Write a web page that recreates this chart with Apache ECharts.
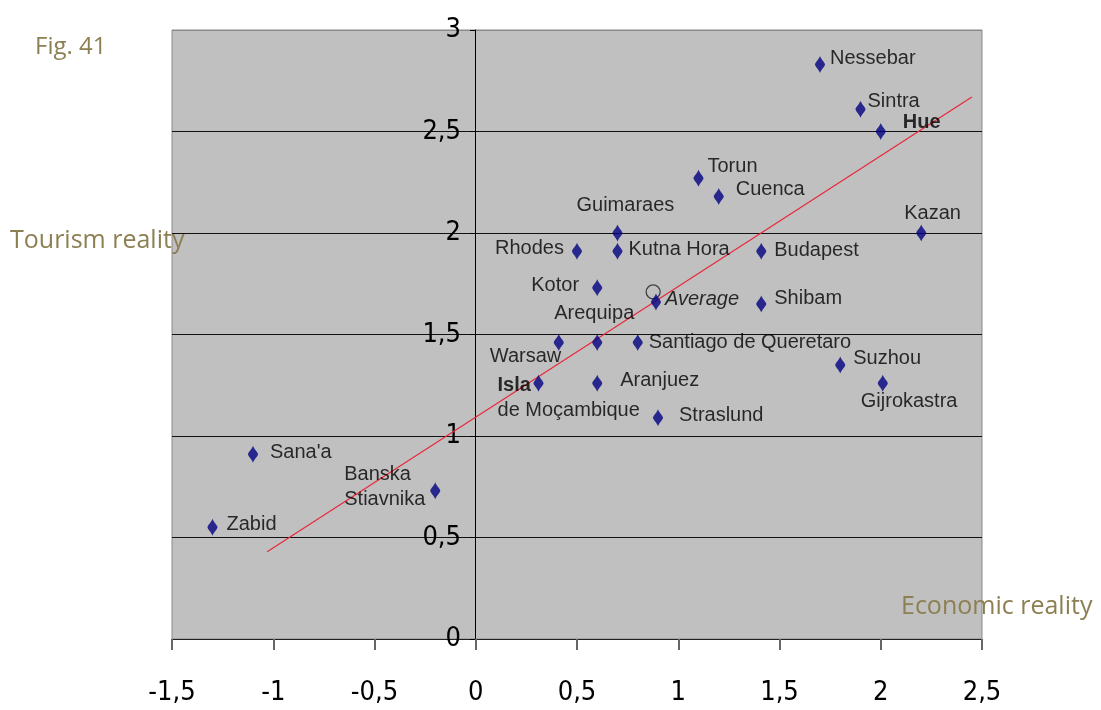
<!DOCTYPE html>
<html>
<head>
<meta charset="utf-8">
<script src="https://cdn.jsdelivr.net/npm/echarts@6/dist/echarts.min.js"></script>
<style>html,body{margin:0;padding:0;background:#fff;}#chart{width:1101px;height:710px;}</style>
</head>
<body>
<div id="chart"></div>
<script>
// ---- data ----
const cities = ['Nessebar','Sintra','Hue','Torun','Cuenca','Guimaraes','Kutna Hora','Rhodes','Budapest','Kotor','Kazan','Average','Shibam','Warsaw','Arequipa','Santiago de Queretaro','Suzhou','Gijrokastra','Isla de Moçambique','Aranjuez','Straslund',"Sana'a",'Banska Stiavnika','Zabid'];
const economic = [1.70,1.90,2.00,1.10,1.20,0.70,0.70,0.50,1.41,0.60,2.20,0.89,1.41,0.41,0.60,0.80,1.80,2.01,0.31,0.60,0.90,-1.10,-0.20,-1.30];
const tourism  = [2.83,2.61,2.50,2.27,2.18,2.00,1.91,1.91,1.91,1.73,2.00,1.66,1.65,1.46,1.46,1.46,1.35,1.26,1.26,1.26,1.09,0.91,0.73,0.55];
const averageCircle = [[0.876, 1.71]];
const trendX = [-1.03, 2.45];
const trendY = [0.43, 2.67];
const xTicks = [-1.5,-1,-0.5,0,0.5,1,1.5,2,2.5];
const yTicks = [0,0.5,1,1.5,2,2.5,3];

// ---- label placement (style, not data) ----
const labelPlace = {
  'Nessebar':[10,-6], 'Sintra':[7,-8], 'Hue':[22,-9], 'Torun':[9,-12], 'Cuenca':[17,-7],
  'Guimaraes':[-41,-28], 'Kutna Hora':[11,-2], 'Rhodes':[-82,-3], 'Budapest':[13,-1],
  'Kotor':[-66,-2], 'Kazan':[-17,-20], 'Average':[9,-3], 'Shibam':[13,-6],
  'Warsaw':[-69,14], 'Arequipa':[-43,-29], 'Santiago de Queretaro':[11,0],
  'Suzhou':[13,-6], 'Gijrokastra':[-22,18], 'Isla de Moçambique':[-41,15],
  'Aranjuez':[23,-3], 'Straslund':[21,-2], "Sana'a":[17,-2],
  'Banska Stiavnika':[-91,-4], 'Zabid':[14,-3]
};
const labelText = {
  'Isla de Moçambique':'{b|Isla}\n{n|de Moçambique}',
  'Banska Stiavnika':'{n|Banska}\n{n|Stiavnika}',
  'Hue':'{b|Hue}',
  'Average':'{i|Average}'
};

const olive = '#8c7f52';
const axisFont = '"Liberation Sans Narrow", "DejaVu Sans Condensed", "Liberation Sans", sans-serif';
const fmt = v => String(v).replace('.', ',');
const roundDiamond = 'path://M5 0 C6.5 4 10 6.5 10 8.5 C10 10.5 6.5 13 5 17 C3.5 13 0 10.5 0 8.5 C0 6.5 3.5 4 5 0 Z';

const points = cities.map((c, i) => ({
  name: c,
  value: [economic[i], tourism[i]],
  label: {
    show: true,
    position: 'inside',
    align: 'left',
    verticalAlign: 'middle',
    offset: labelPlace[c],
    formatter: labelText[c] || ('{n|' + c + '}')
  }
}));

const chart = echarts.init(document.getElementById('chart'));
chart.setOption({
  animation: false,
  backgroundColor: '#ffffff',
  grid: {
    left: 172, right: 119, top: 30, bottom: 71,
    show: true, backgroundColor: '#c0c0c0', borderColor: '#8a8a8a', borderWidth: 1
  },
  xAxis: {
    type: 'value', min: xTicks[0], max: xTicks[xTicks.length-1], interval: 0.5,
    axisLine: { show: true, onZero: false, lineStyle: { color: '#222', width: 1 } },
    axisTick: { show: true, length: 11, lineStyle: { color: '#666', width: 2 } },
    splitLine: { show: false },
    axisLabel: {
      margin: 40, color: '#000', fontFamily: axisFont, fontSize: 27, lineHeight: 27,
      formatter: v => fmt(v)
    }
  },
  yAxis: {
    type: 'value', min: yTicks[0], max: yTicks[yTicks.length-1], interval: 0.5,
    offset: -303,
    axisLine: { show: true, onZero: false, lineStyle: { color: '#000', width: 1 } },
    axisTick: { show: true, length: 5, lineStyle: { color: '#000' } },
    splitLine: { show: true, lineStyle: { color: ['#222','#111','#111','#111','#111','#111','#8a8a8a'], width: 1 } },
    axisLabel: {
      margin: 14, color: '#000', fontFamily: axisFont, fontSize: 27, lineHeight: 27,
      formatter: v => fmt(v)
    }
  },
  series: [
    {
      type: 'line',
      data: trendX.map((x, i) => [x, trendY[i]]),
      symbol: 'none',
      lineStyle: { color: '#e8283a', width: 1.2 },
      z: 3,
      silent: true
    },
    {
      type: 'scatter',
      data: points,
      symbol: roundDiamond,
      symbolSize: [10, 17],
      itemStyle: { color: '#00007f' },
      z: 4,
      label: {
        color: '#000',
        fontFamily: 'Liberation Sans',
        fontSize: 20,
        rich: {
          n: { fontFamily: 'Liberation Sans', fontSize: 20, color: '#000', lineHeight: 25 },
          b: { fontFamily: 'Liberation Sans', fontSize: 20, fontWeight: 'bold', color: '#000', lineHeight: 25 },
          i: { fontFamily: 'Liberation Sans', fontSize: 20, fontStyle: 'italic', color: '#000', lineHeight: 25 }
        }
      }
    },
    {
      type: 'scatter',
      data: averageCircle,
      symbol: 'circle',
      symbolSize: 14,
      itemStyle: { color: 'rgba(0,0,0,0)', borderColor: '#222', borderWidth: 1.3 },
      z: 3
    }
  ],
  graphic: [
    { type: 'text', left: 35, top: 35, z: 100,
      style: { text: 'Fig. 41', fill: olive, font: '24px "Open Sans"' } },
    { type: 'text', left: 10, top: 228, z: 100,
      style: { text: 'Tourism reality', fill: olive, font: '25px "Open Sans"' } },
    { type: 'text', left: 901, top: 594, z: 100,
      style: { text: 'Economic reality', fill: olive, font: '25px "Open Sans"' } }
  ]
});
</script>
</body>
</html>
